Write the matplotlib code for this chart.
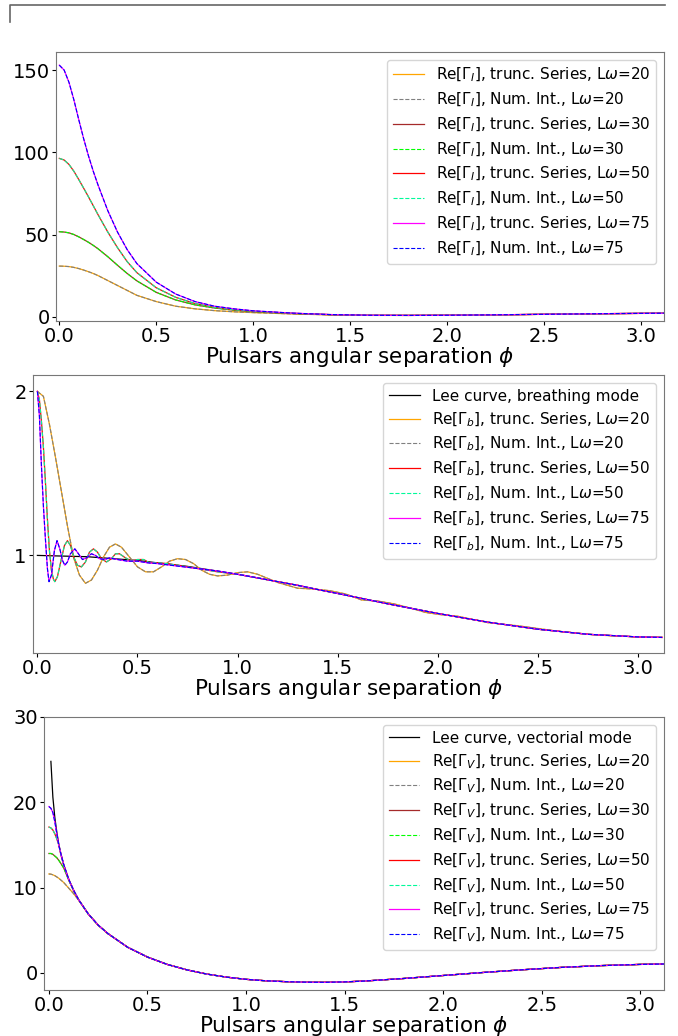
import numpy as np
import matplotlib
matplotlib.use("Agg")
import matplotlib.pyplot as plt
from matplotlib.lines import Line2D

# ---- intensity mode (top panel) ----
phi_I = [0, 0.025, 0.05, 0.075, 0.1, 0.125, 0.15, 0.175, 0.2, 0.25, 0.3, 0.35, 0.4, 0.5, 0.6,
         0.7, 0.8, 0.9, 1.0, 1.2, 1.4, 1.6, 1.8, 2.0, 2.2, 2.4, 2.6, 2.8, 3.0, 3.12]
I20 = [30.8, 30.7, 30.5, 30.0, 29.3, 28.4, 27.4, 26.3, 25.0, 22.0, 19.0, 16.0, 13.0, 9.2, 6.4,
       4.8, 3.7, 3.0, 2.5, 1.7, 1.1, 0.8, 0.8, 0.9, 1.1, 1.3, 1.6, 1.8, 2.0, 2.1]
I30 = [51.7, 51.5, 51.0, 50.0, 48.6, 47.0, 45.3, 43.4, 41.3, 36.5, 31.3, 26.3, 21.8, 14.8, 10.2,
       7.2, 5.3, 4.0, 3.1, 2.0, 1.2, 0.85, 0.8, 0.9, 1.1, 1.35, 1.6, 1.85, 2.05, 2.15]
I50 = [96.3, 95.3, 92.6, 88.5, 83.5, 78.3, 73.0, 67.5, 62.0, 51.5, 42.0, 33.5, 26.8, 17.6, 11.8,
       8.0, 5.7, 4.2, 3.3, 2.1, 1.3, 0.85, 0.8, 0.9, 1.1, 1.35, 1.6, 1.85, 2.05, 2.15]
I75 = [153.0, 150.0, 142.5, 132.0, 120.0, 108.5, 98.0, 88.5, 80.0, 64.5, 51.5, 40.8, 32.3, 21.0, 13.8,
       9.2, 6.4, 4.8, 3.6, 2.2, 1.3, 0.9, 0.8, 0.9, 1.1, 1.35, 1.6, 1.85, 2.05, 2.15]

# ---- breathing mode (middle panel) ----
phi_lee_b = [0, 0.25, 0.5, 0.75, 1.0, 1.25, 1.5, 1.75, 2.0, 2.25, 2.5, 2.75, 3.0, 3.12]
lee_b = [1.0, 0.992, 0.969, 0.933, 0.885, 0.829, 0.768, 0.705, 0.646, 0.593, 0.550, 0.519, 0.503, 0.500]

phi_b20 = [0, 0.03, 0.06, 0.09, 0.12, 0.15, 0.18, 0.21, 0.24, 0.27,
           0.30, 0.33, 0.36, 0.39, 0.42, 0.46, 0.50, 0.54, 0.58, 0.62,
           0.66, 0.70, 0.74, 0.78, 0.82, 0.86, 0.90, 0.95, 1.00, 1.05,
           1.10, 1.15, 1.20, 1.30, 1.38, 1.46, 1.54, 1.62, 1.70, 1.78,
           1.86, 1.94, 2.02, 2.10, 2.25, 2.40, 2.60, 2.80, 3.00, 3.12]
B20 = [2.0, 1.97, 1.80, 1.60, 1.39, 1.18, 0.99, 0.88, 0.83, 0.85,
       0.91, 0.99, 1.05, 1.07, 1.05, 0.99, 0.93, 0.90, 0.90, 0.93,
       0.965, 0.98, 0.975, 0.95, 0.91, 0.885, 0.875, 0.88, 0.895, 0.90,
       0.885, 0.86, 0.835, 0.80, 0.795, 0.785, 0.765, 0.728, 0.722, 0.705,
       0.68, 0.652, 0.638, 0.629, 0.59, 0.571, 0.538, 0.514, 0.503, 0.500]

phi_b50 = [0, 0.01, 0.02, 0.03, 0.04, 0.05, 0.06, 0.07, 0.08, 0.087,
           0.10, 0.12, 0.135, 0.15, 0.165, 0.185, 0.20, 0.22, 0.24, 0.26,
           0.28, 0.30, 0.32, 0.345, 0.37, 0.39, 0.41, 0.44, 0.47, 0.50,
           0.53, 0.56, 0.60, 0.65, 0.70, 0.75, 0.80, 0.85, 0.9, 1.0,
           1.1, 1.2, 1.3, 1.4, 1.5, 1.75, 2.0, 2.25, 2.5, 2.75, 3.0, 3.12]
B50 = [2.0, 1.95, 1.82, 1.66, 1.45, 1.22, 1.03, 0.91, 0.855, 0.84,
       0.87, 0.98, 1.06, 1.09, 1.06, 0.98, 0.94, 0.93, 0.96, 1.02,
       1.04, 1.02, 0.98, 0.96, 0.98, 1.01, 1.01, 0.985, 0.965, 0.975,
       0.975, 0.955, 0.955, 0.95, 0.94, 0.93, 0.92, 0.91, 0.9, 0.885,
       0.863, 0.84, 0.818, 0.792, 0.768, 0.705, 0.646, 0.593, 0.550, 0.519, 0.503, 0.500]

phi_b75 = [0, 0.01, 0.02, 0.03, 0.04, 0.05, 0.058, 0.07, 0.085, 0.098,
           0.112, 0.125, 0.137, 0.15, 0.165, 0.187, 0.205, 0.225, 0.245, 0.27,
           0.29, 0.31, 0.335, 0.36, 0.40, 0.45, 0.5, 0.55, 0.6, 0.7,
           0.8, 0.9, 1.0, 1.1, 1.2, 1.3, 1.4, 1.5, 1.75, 2.0,
           2.25, 2.5, 2.75, 3.0, 3.12]
B75 = [2.0, 1.85, 1.55, 1.30, 1.10, 0.92, 0.84, 0.88, 1.03, 1.09,
       1.04, 0.97, 0.94, 0.96, 1.01, 1.04, 1.01, 0.975, 0.985, 1.01,
       1.0, 0.98, 0.975, 0.985, 0.975, 0.965, 0.965, 0.955, 0.95, 0.935,
       0.92, 0.905, 0.885, 0.863, 0.84, 0.818, 0.792, 0.768, 0.705, 0.646,
       0.593, 0.550, 0.519, 0.503, 0.500]

# ---- vectorial mode (bottom panel) ----
phi_V = [0, 0.01, 0.02, 0.03, 0.04, 0.05, 0.06, 0.075, 0.1, 0.125, 0.15,
         0.2, 0.25, 0.3, 0.4, 0.5, 0.6, 0.7, 0.8, 0.9, 1.0, 1.1, 1.2, 1.3, 1.4,
         1.5, 1.6, 1.8, 2.0, 2.2, 2.4, 2.6, 2.8, 3.0, 3.12]
V_tail = [6.9, 5.6, 4.6, 3.0, 1.86, 1.0, 0.36, -0.13, -0.49, -0.75, -0.92, -1.02, -1.08, -1.1,
          -1.05, -0.95, -0.65, -0.30, 0.05, 0.37, 0.65, 0.86, 1.0, 1.05]
lee_V = [np.nan, 24.8, 20.6, 18.2, 16.5, 15.1, 14.05, 12.7, 11.0, 9.7, 8.6] + V_tail
V20 = [11.6, 11.58, 11.5, 11.4, 11.25, 11.1, 10.9, 10.6, 9.95, 9.3, 8.55] + V_tail
V30 = [14.0, 14.0, 13.9, 13.7, 13.5, 13.2, 12.85, 12.3, 10.9, 9.65, 8.6] + V_tail
V50 = [17.1, 17.0, 16.75, 16.3, 15.7, 15.0, 13.9, 12.65, 11.0, 9.7, 8.6] + V_tail
V75 = [19.5, 19.3, 18.8, 17.7, 16.3, 15.0, 14.0, 12.7, 11.0, 9.7, 8.6] + V_tail

series_col = {20: "orange", 30: "brown", 50: "red", 75: "magenta"}
numint_col = {20: "gray", 30: "lime", 50: "mediumspringgreen", 75: "blue"}

lw = 0.9

fig = plt.figure(figsize=(6.78, 10.36), dpi=100)
W, H = 678, 1036


def add_ax(l, r, t, b):
    return fig.add_axes([l / W, 1 - b / H, (r - l) / W, (b - t) / H])


def finish(ax):
    ax.set_xlabel(r"Pulsars angular separation $\phi$", fontsize=15.5, labelpad=-1)
    ax.tick_params(labelsize=14, pad=1.5, length=3)
    ax.set_xticks([0, 0.5, 1.0, 1.5, 2.0, 2.5, 3.0])
    for s in ax.spines.values():
        s.set_color("#777777")
    ax.legend(loc="upper right", fontsize=11, labelspacing=0.42, borderaxespad=0.5)


# top
ax1 = add_ax(56, 664, 52, 321)
for L, y in [(20, I20), (30, I30), (50, I50), (75, I75)]:
    ax1.plot(phi_I, y, color=series_col[L], lw=lw,
             label=r"Re[$\Gamma_I$], trunc. Series, L$\omega$=%d" % L)
    ax1.plot(phi_I, y, color=numint_col[L], lw=0.8, ls="--",
             label=r"Re[$\Gamma_I$], Num. Int., L$\omega$=%d" % L)
ax1.set_xlim(-0.017, 3.117)
ax1.set_ylim(-2.6, 161)
ax1.set_yticks([0, 50, 100, 150])
finish(ax1)

# middle
ax2 = add_ax(33, 664, 375, 653)
ax2.plot(phi_lee_b, lee_b, color="black", lw=lw, label="Lee curve, breathing mode")
for L, p, y in [(20, phi_b20, B20), (50, phi_b50, B50), (75, phi_b75, B75)]:
    ax2.plot(p, y, color=series_col[L], lw=lw,
             label=r"Re[$\Gamma_b$], trunc. Series, L$\omega$=%d" % L)
    ax2.plot(p, y, color=numint_col[L], lw=0.8, ls="--",
             label=r"Re[$\Gamma_b$], Num. Int., L$\omega$=%d" % L)
ax2.set_xlim(-0.022, 3.13)
ax2.set_ylim(0.405, 2.10)
ax2.set_yticks([1, 2])
finish(ax2)

# bottom
ax3 = add_ax(44, 664, 717, 990)
ax3.plot(phi_V, lee_V, color="black", lw=lw, label="Lee curve, vectorial mode")
for L, y in [(20, V20), (30, V30), (50, V50), (75, V75)]:
    ax3.plot(phi_V, y, color=series_col[L], lw=lw,
             label=r"Re[$\Gamma_V$], trunc. Series, L$\omega$=%d" % L)
    ax3.plot(phi_V, y, color=numint_col[L], lw=0.8, ls="--",
             label=r"Re[$\Gamma_V$], Num. Int., L$\omega$=%d" % L)
ax3.set_xlim(-0.025, 3.12)
ax3.set_ylim(-2, 30)
ax3.set_yticks([0, 10, 20, 30])
finish(ax3)

# stray frame corner at the very top
fig.add_artist(Line2D([10 / W, 10 / W, 665 / W], [1 - 22 / H, 1 - 5 / H, 1 - 5 / H],
                      transform=fig.transFigure, color="#666666", lw=1.2))

fig.savefig("out.png", dpi=100)
